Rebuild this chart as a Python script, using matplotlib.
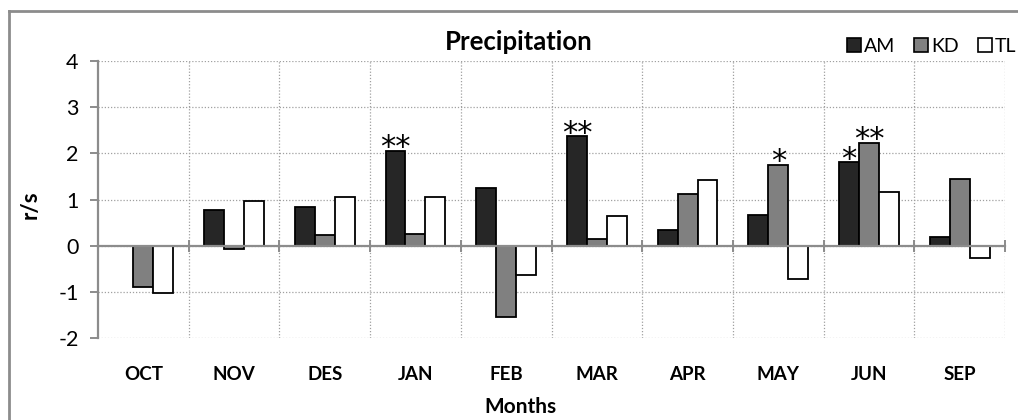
import matplotlib
matplotlib.use("Agg")
import matplotlib.pyplot as plt
import matplotlib.transforms as mtransforms
from matplotlib.patches import Rectangle
from matplotlib.lines import Line2D
import numpy as np

plt.rcParams['font.family'] = ['Lato', 'DejaVu Sans']

months = ["OCT", "NOV", "DES", "JAN", "FEB", "MAR", "APR", "MAY", "JUN", "SEP"]
series_names = ["AM", "KD", "TL"]
am = [0.00, 0.77, 0.84, 2.06, 1.24, 2.37, 0.34, 0.66, 1.81, 0.19]
kd = [-0.89, -0.08, 0.23, 0.25, -1.54, 0.15, 1.11, 1.75, 2.23, 1.44]
tl = [-1.03, 0.97, 1.06, 1.05, -0.63, 0.65, 1.42, -0.73, 1.16, -0.26]
# significance marks: (month index, series index, label)
marks = [(3, 0, "**"), (5, 0, "**"), (7, 1, "*"), (8, 0, "*"), (8, 1, "**")]
yticks = [-2, -1, 0, 1, 2, 3, 4]

colors = ["#262626", "#808080", "#ffffff"]
axis_gray = "#8c8c8c"

fig = plt.figure(figsize=(10.18, 4.20), dpi=100)
ax = fig.add_axes([98 / 1018, 1 - 338 / 420, (1005 - 98) / 1018, (338 - 61) / 420])

x = np.arange(len(months))
width = 0.22
values = [am, kd, tl]
for k, (vals, col) in enumerate(zip(values, colors)):
    ax.bar(x + (k - 1) * width, vals, width, color=col, edgecolor="black",
           linewidth=1.3, zorder=3, label=series_names[k])

for mi, si, lab in marks:
    v = values[si][mi]
    ax.text(mi + (si - 1) * width, v - 0.12, lab, ha="center", va="baseline",
            fontsize=22, family="DejaVu Sans", zorder=4)

ax.set_xlim(-0.5, len(months) - 0.5)
ax.set_ylim(-2, 4)

# dotted grid at category boundaries and integer levels
for b in np.arange(-0.5, len(months) + 0.5, 1.0)[1:]:
    ax.axvline(b, color="#a0a0a0", linestyle=(0, (1, 1.5)), linewidth=0.9, zorder=1)
for t in yticks:
    ax.axhline(t, color="#a0a0a0", linestyle=(0, (1, 1.5)), linewidth=0.9, zorder=1)

for s in ["top", "right"]:
    ax.spines[s].set_visible(False)
ax.spines["left"].set_color(axis_gray)
ax.spines["left"].set_linewidth(1.6)
ax.spines["bottom"].set_position(("data", 0))
ax.spines["bottom"].set_color(axis_gray)
ax.spines["bottom"].set_linewidth(1.6)
ax.spines["bottom"].set_zorder(5)

ax.set_yticks(yticks)
ax.set_yticklabels([str(t) for t in yticks], fontsize=15.5)
ax.tick_params(axis="y", direction="out", length=6, width=1.4, color=axis_gray, pad=8)
ax.set_xticks(np.arange(-0.5, len(months), 1.0))
ax.set_xticklabels([])
ax.tick_params(axis="x", direction="inout", length=8, width=1.4, color=axis_gray)

trans = mtransforms.blended_transform_factory(ax.transData, fig.transFigure)
for i, m in enumerate(months):
    ax.text(i, 1 - 375 / 420, m, transform=trans, ha="center", va="center",
            fontsize=13.5, fontweight="bold")

fig.text(520 / 1018, 1 - 407 / 420, "Months", ha="center", va="center",
         fontsize=15, fontweight="bold")
fig.text(30 / 1018, 1 - 205 / 420, "r/s", ha="center", va="center", rotation=90,
         fontsize=16, fontweight="bold")
fig.text(519 / 1018, 1 - 42 / 420, "Precipitation", ha="center", va="center",
         fontsize=18.5, fontweight="bold")

handles = [Rectangle((0, 0), 1, 1, facecolor=c, edgecolor="black", linewidth=1.2)
           for c in colors]
fig.legend(handles, series_names, loc="center right",
           bbox_to_anchor=(1016 / 1018, 1 - 46 / 420), ncol=3, frameon=False,
           fontsize=14, handlelength=0.7, handleheight=0.7, handletextpad=0.15,
           columnspacing=1.0, borderaxespad=0, borderpad=0)

# outer chart frame (left and top edges visible)
fig.add_artist(Line2D([8.5 / 1018, 8.5 / 1018], [0, 1 - 11 / 420],
                      transform=fig.transFigure, color="#8c8c8c", linewidth=2))
fig.add_artist(Line2D([8.5 / 1018, 1], [1 - 11 / 420, 1 - 11 / 420],
                      transform=fig.transFigure, color="#8c8c8c", linewidth=2))

fig.savefig("out.png", dpi=100)
